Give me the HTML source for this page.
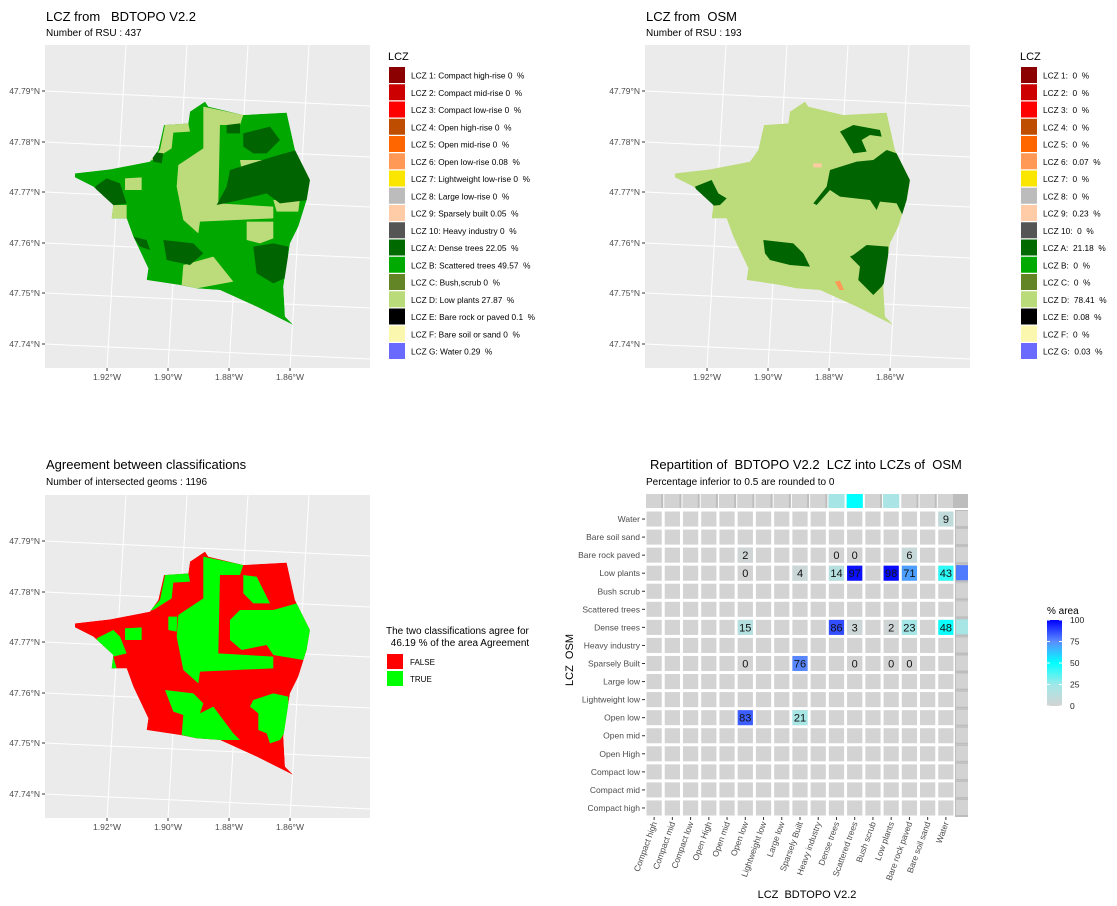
<!DOCTYPE html>
<html><head><meta charset="utf-8"><style>
body{margin:0;background:#fff}
svg{display:block;font-family:"Liberation Sans",sans-serif}
</style></head><body>
<svg id="s" width="1117" height="906" viewBox="0 0 1117 906" xmlns="http://www.w3.org/2000/svg">
<text x="46" y="21" font-size="13">LCZ from &#160; BDTOPO V2.2</text>
<text x="46" y="36" font-size="10">Number of RSU : 437</text>
<text x="646" y="21" font-size="13">LCZ from &#160;OSM</text>
<text x="646" y="36" font-size="10">Number of RSU : 193</text>
<text x="46" y="469" font-size="13">Agreement between classifications</text>
<text x="46" y="485" font-size="10">Number of intersected geoms : 1196</text>
<text x="650" y="469" font-size="13">Repartition of &#160;BDTOPO V2.2 &#160;LCZ into LCZs of &#160;OSM</text>
<text x="646" y="485" font-size="10">Percentage inferior to 0.5 are rounded to 0</text>
<text x="386" y="634" font-size="10">The two classifications agree for</text>
<text x="388" y="646" font-size="10">&#160;46.19 % of the area Agreement</text>
<rect x="387" y="654" width="16" height="15" fill="#ff0000"/>
<text x="410" y="665" font-size="8">FALSE</text>
<rect x="387" y="671" width="16" height="15" fill="#00ff00"/>
<text x="410" y="682" font-size="8">TRUE</text>
<text x="807" y="898" font-size="11" text-anchor="middle">LCZ &#160;BDTOPO V2.2</text>
<text transform="translate(573,660) rotate(-90)" font-size="11" text-anchor="middle">LCZ &#160;OSM</text>
<text x="1047" y="614" font-size="10">% area</text>
<defs><linearGradient id="cg" x1="0" y1="1" x2="0" y2="0">
<stop offset="0" stop-color="#d3d3d3"/><stop offset="0.25" stop-color="#a0e8e8"/><stop offset="0.5" stop-color="#00ffff"/><stop offset="0.75" stop-color="#5b8cff"/><stop offset="1" stop-color="#0000ff"/></linearGradient></defs>
<rect x="1047" y="620" width="15" height="86" fill="url(#cg)"/>
</svg>
<script>
const NS="http://www.w3.org/2000/svg";
const svg=document.getElementById('s');
function mk(tag,at,parent){const e=document.createElementNS(NS,tag);for(const k in at)e.setAttribute(k,at[k]);(parent||svg).appendChild(e);return e;}
const nb=s=>s.replace(/  /g,' \u00a0');

const lcz1Labels=["LCZ 1: Compact high-rise 0  %","LCZ 2: Compact mid-rise 0  %","LCZ 3: Compact low-rise 0  %","LCZ 4: Open high-rise 0  %","LCZ 5: Open mid-rise 0  %","LCZ 6: Open low-rise 0.08  %","LCZ 7: Lightweight low-rise 0  %","LCZ 8: Large low-rise 0  %","LCZ 9: Sparsely built 0.05  %","LCZ 10: Heavy industry 0  %","LCZ A: Dense trees 22.05  %","LCZ B: Scattered trees 49.57  %","LCZ C: Bush,scrub 0  %","LCZ D: Low plants 27.87  %","LCZ E: Bare rock or paved 0.1  %","LCZ F: Bare soil or sand 0  %","LCZ G: Water 0.29  %"];
const lcz2Labels=["LCZ 1:  0  %","LCZ 2:  0  %","LCZ 3:  0  %","LCZ 4:  0  %","LCZ 5:  0  %","LCZ 6:  0.07  %","LCZ 7:  0  %","LCZ 8:  0  %","LCZ 9:  0.23  %","LCZ 10:  0  %","LCZ A:  21.18  %","LCZ B:  0  %","LCZ C:  0  %","LCZ D:  78.41  %","LCZ E:  0.08  %","LCZ F:  0  %","LCZ G:  0.03  %"];
const lczColors=["#8b0000","#cc0000","#ff0000","#bf4d00","#ff6600","#ff9955","#fae600","#bcbcbc","#ffcca7","#555555","#006a00","#00aa00","#648525","#b9db79","#000000","#fbf7ae","#6a6aff"];
function legend(x,labels,name){
  const t=mk('text',{x:x,y:60,'font-size':11});t.textContent='LCZ';
  
  
  labels.forEach((l,i)=>{const y=67+i*17.25;
    const r=mk('rect',{x:x+1,y:y,width:16,height:16,fill:lczColors[i]});
    
    
    const tx=mk('text',{x:x+23,y:y+11.5,'font-size':8.3});tx.textContent=nb(l);
    
    });
}
legend(388,lcz1Labels,'legend-bdtopo');
legend(1020,lcz2Labels,'legend-osm');

const latLabels=["47.79°N","47.78°N","47.77°N","47.76°N","47.75°N","47.74°N"];
const lonLabels=["1.92°W","1.90°W","1.88°W","1.86°W"];
const outline="105,250 210,238 330,215 355,180 372,105 445,100 450,65 495,35 505,50 610,75 740,68 765,180 810,270 800,330 775,410 750,460 730,590 735,680 760,705 650,650 540,600 470,595 420,585 320,570 325,535 280,440 260,385 215,385 220,345 160,290 105,262";
const map1Light=["490,50 610,75 600,105 540,105 535,340 700,350 700,385 480,395 475,430 430,390 410,290 415,225 490,175","375,105 445,100 450,125 400,128 395,175 340,210 330,212 360,180","255,265 305,262 305,300 255,300","430,525 520,500 580,575 470,595 425,585","600,210 700,210 700,240 605,240","700,330 780,325 775,365 710,365","215,345 260,345 260,385 215,385","620,395 700,395 700,445 660,460 620,450"];
const map1Dark=["570,240 700,200 770,180 810,270 805,330 720,340 680,310 600,330 530,345 560,290","560,105 600,100 600,130 560,130","610,130 690,110 720,150 680,190 640,190 610,170","165,290 200,265 240,280 260,340 190,350","370,450 460,460 490,490 450,525 380,510","640,470 700,460 745,470 745,560 700,580 650,550","280,440 320,450 330,480 300,470","335,185 370,190 365,220 340,215"];
const map2Dark=["600,125 640,105 720,120 725,140 690,135 665,150 680,185 640,190 610,140","570,240 650,215 700,210 740,180 770,190 810,270 805,330 790,380 770,340 720,335 710,360 690,330 600,320 570,300 530,345 520,340 560,290","165,290 215,270 235,310 260,325 240,345 190,350","370,450 460,460 490,490 510,530 450,525 390,510 375,490","640,495 680,465 745,470 745,560 725,590 700,615 680,595 655,570 660,530 630,500"];
const map3Green=["490,50 610,75 600,105 540,105 535,340 700,350 700,385 480,395 475,430 430,390 410,290 415,225 490,175","375,105 445,100 450,125 400,128 395,175 340,210 330,212 360,180","600,210 700,210 770,190 810,270 800,330 790,360 700,345 680,315 605,330 570,300 570,240","255,265 305,262 305,300 255,300","170,295 220,270 240,290 260,340 220,350 230,385 215,385 190,345","385,230 412,230 410,275 385,270","375,450 460,460 490,490 480,520 520,500 580,580 600,600 540,600 470,595 425,585 430,525 400,515","640,480 700,460 745,470 745,560 720,600 690,610 680,580 655,570 655,520 630,500","610,105 650,110 690,190 640,190 610,160"];

function drawMap(ox,oy,base,layers,name){
  const g=mk('g',{});
  
  
  const px=ox+5,py=oy-45,W=325,H=323;
  mk('rect',{x:px,y:py,width:W,height:H,fill:'#ebebeb'},g);
  const tickY=[91,142,192,243,293,344].map(v=>v+oy-90);
  const tickX=[107,168,229,290].map(v=>v+ox-40);
  tickY.forEach((y,i)=>{mk('line',{x1:px,y1:y,x2:px+W,y2:y+15,stroke:'#fff','stroke-width':1},g);
    mk('line',{x1:px-3,y1:y,x2:px,y2:y,stroke:'#333'},g);
    const t=mk('text',{x:px-5,y:y+3,'font-size':8.5,fill:'#4d4d4d','text-anchor':'end'},g);t.textContent=latLabels[i];});
  tickX.forEach((x,i)=>{mk('line',{x1:x,y1:py+H,x2:x+19,y2:py,stroke:'#fff','stroke-width':1},g);
    mk('line',{x1:x,y1:py+H,x2:x,y2:py+H+3,stroke:'#333'},g);
    const t=mk('text',{x:x,y:py+H+12,'font-size':8.5,fill:'#4d4d4d','text-anchor':'middle'},g);t.textContent=lonLabels[i];});
  const cp='cp'+name;
  const d=mk('clipPath',{id:cp},g);
  mk('polygon',{points:outline},d);
  d.setAttribute('transform',`translate(${ox},${oy}) scale(0.3333)`);
  const cl=mk('g',{'clip-path':`url(#${cp})`},g);
  const sub=mk('g',{transform:`translate(${ox},${oy}) scale(0.3333)`},cl);
  mk('polygon',{points:outline,fill:base},sub);
  layers.forEach(L=>L.polys.forEach(p=>mk('polygon',{points:p,fill:L.fill},sub)));
}
drawMap(40,90,'#00a800',[{fill:'#bcdb7a',polys:map1Light},{fill:'#006400',polys:map1Dark}],'map-bdtopo');
drawMap(640,90,'#bcdb7a',[{fill:'#006400',polys:map2Dark},{fill:'#ffcba3',polys:["520,220 545,220 545,232 520,232"]},{fill:'#ff9955',polys:["585,575 600,572 612,600 598,600"]}],'map-osm');
drawMap(40,540,'#ff0000',[{fill:'#00ff00',polys:map3Green}],'map-agreement');

const rowsOSM=["Water","Bare soil sand","Bare rock paved","Low plants","Bush scrub","Scattered trees","Dense trees","Heavy industry","Sparsely Built","Large low","Lightweight low","Open low","Open mid","Open High","Compact low","Compact mid","Compact high"];
const colsBD=["Compact high","Compact mid","Compact low","Open High","Open mid","Open low","Lightweight low","Large low","Sparsely Built","Heavy industry","Dense trees","Scattered trees","Bush scrub","Low plants","Bare rock paved","Bare soil sand","Water"];
const cellRow=["Water","Bare rock paved","Bare rock paved","Bare rock paved","Bare rock paved","Low plants","Low plants","Low plants","Low plants","Low plants","Low plants","Low plants","Dense trees","Dense trees","Dense trees","Dense trees","Dense trees","Dense trees","Sparsely Built","Sparsely Built","Sparsely Built","Sparsely Built","Sparsely Built","Open low","Open low"];
const cellCol=["Water","Open low","Dense trees","Scattered trees","Bare rock paved","Open low","Sparsely Built","Dense trees","Scattered trees","Low plants","Bare rock paved","Water","Open low","Dense trees","Scattered trees","Low plants","Bare rock paved","Water","Open low","Sparsely Built","Scattered trees","Low plants","Bare rock paved","Open low","Sparsely Built"];
const cellVal=[9,2,0,0,6,0,4,14,97,98,71,43,15,86,3,2,23,48,0,76,0,0,0,83,21];
const topMarginCol=["Dense trees","Scattered trees","Low plants"];
const topMarginVal=[22,50,20];
const rightMarginRow=["Low plants","Dense trees"];
const rightMarginVal=[78,21];

const stops=[[0,[211,211,211]],[25,[160,232,232]],[50,[0,255,255]],[75,[91,140,255]],[100,[0,0,255]]];
function col(v){for(let i=1;i<stops.length;i++){if(v<=stops[i][0]){const a=stops[i-1],b=stops[i],t=(v-a[0])/(b[0]-a[0]);return 'rgb('+a[1].map((c,k)=>Math.round(c+(b[1][k]-c)*t)).join(',')+')';}}return 'rgb(0,0,255)';}
const gx0=645,gy0=510,cw=310/17,rh=307/17;
const xc=c=>gx0+cw*colsBD.indexOf(c);
const yr=r=>gy0+rh*rowsOSM.indexOf(r);
colsBD.forEach((c,i)=>{const k=topMarginCol.indexOf(c);
  const r=mk('rect',{x:xc(c)+1,y:494,width:cw-2,height:14,fill:k>=0?col(topMarginVal[k]):'#d3d3d3'});
  
  
  if(k<0){mk('rect',{x:xc(c)+cw-2,y:494,width:2,height:14,fill:'#bdbdbd'});}});
mk('rect',{x:955,y:494,width:13,height:14,fill:'#bdbdbd'});
rowsOSM.forEach(rn=>{const k=rightMarginRow.indexOf(rn);
  mk('rect',{x:955,y:yr(rn),width:13,height:rh,fill:'#bdbdbd'});
  const r=mk('rect',{x:956,y:yr(rn)+1,width:12,height:rh-3,fill:k>=0?col(rightMarginVal[k]):'#d3d3d3'});
  
  });
mk('rect',{x:gx0,y:gy0,width:310,height:307,fill:'#fff'});
rowsOSM.forEach(rn=>colsBD.forEach(cn=>{
  const r=mk('rect',{x:xc(cn)+1.5,y:yr(rn)+1.5,width:cw-3,height:rh-3,fill:'#d3d3d3'});
  
  }));
cellVal.forEach((v,i)=>{
  const x=xc(cellCol[i]),y=yr(cellRow[i]);
  const r=mk('rect',{x:x+1.5,y:y+1.5,width:cw-3,height:rh-3,fill:col(v)});
  
  
  const t=mk('text',{x:x+cw/2,y:y+rh/2+4,'font-size':11,'text-anchor':'middle',fill:'#111'});t.textContent=v;
  
  });
rowsOSM.forEach(rn=>{const y=yr(rn)+rh/2;
  mk('line',{x1:gx0-3,y1:y,x2:gx0,y2:y,stroke:'#333'});
  const t=mk('text',{x:gx0-5,y:y+3,'font-size':8.5,fill:'#4d4d4d','text-anchor':'end'});t.textContent=rn;
  
  });
colsBD.forEach(cn=>{const x=xc(cn)+cw/2;
  mk('line',{x1:x,y1:817,x2:x,y2:820,stroke:'#333'});
  const t=mk('text',{transform:`translate(${x+3},823) rotate(-70)`,'font-size':8.5,fill:'#4d4d4d','text-anchor':'end'});t.textContent=cn;
  
  });
const cbTicks=["0","25","50","75","100"];
cbTicks.forEach((l,i)=>{const y=706-i*21.5;
  mk('line',{x1:1047,y1:y,x2:1050,y2:y,stroke:'#fff'});mk('line',{x1:1059,y1:y,x2:1062,y2:y,stroke:'#fff'});
  const t=mk('text',{x:1070,y:y+3,'font-size':8.5,fill:'#222'});t.textContent=l;
  
  });
</script>
</body></html>
